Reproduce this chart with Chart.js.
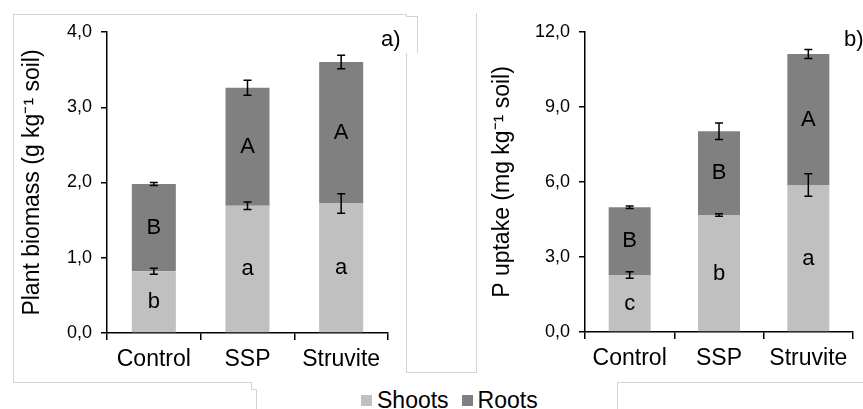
<!DOCTYPE html>
<html>
<head>
<meta charset="utf-8">
<script src="https://cdn.jsdelivr.net/npm/chart.js@4"></script>
<style>
  body { margin: 0; background: #fff; width: 863px; height: 409px; overflow: hidden; position: relative;
         font-family: 'Liberation Sans', Arial, sans-serif; }
  .box { position: absolute; }
  .ln { position: absolute; background: #d3d3d3; }
  .tag { position: absolute; font-size: 22px; color: #000; line-height: 1; }
  #legend { position: absolute; left: 361px; top: 389px; font-size: 23px; line-height: 1; display: flex; align-items: center; }
  #legend span.sq { display: inline-block; width: 11px; height: 11px; margin-right: 5px; }
  #legend span.tx { margin-right: 13px; }
</style>
</head>
<body>
<div class="ln" style="left:13px;top:14px;width:1px;height:369px"></div>
<div class="ln" style="left:13px;top:382px;width:238px;height:1px"></div>
<div class="ln" style="left:251px;top:382px;width:1px;height:7px"></div>
<div class="ln" style="left:251px;top:389px;width:5px;height:1px"></div>
<div class="ln" style="left:256px;top:389px;width:1px;height:20px"></div>
<div class="ln" style="left:13px;top:14px;width:393px;height:1px"></div>
<div class="ln" style="left:406px;top:14px;width:1px;height:2px"></div>
<div class="ln" style="left:406px;top:16px;width:11px;height:1px"></div>
<div class="ln" style="left:417px;top:16px;width:1px;height:37px"></div>
<div class="ln" style="left:406px;top:53px;width:1px;height:319px"></div>
<div class="ln" style="left:406px;top:372px;width:71px;height:1px"></div>
<div class="ln" style="left:476px;top:13px;width:1px;height:359px"></div>
<div class="ln" style="left:617px;top:382px;width:246px;height:1px"></div>
<div class="ln" style="left:617px;top:382px;width:1px;height:27px"></div>

<div class="box" style="left:0;top:0;width:420px;height:380px"><canvas id="biomass"></canvas></div>
<div class="box" style="left:430px;top:0;width:433px;height:380px"><canvas id="uptake"></canvas></div>

<div class="tag" style="left:381px;top:28px">a)</div>
<div class="tag" style="left:844px;top:28px">b)</div>
<div id="legend"></div>

<script>
const categories = ['Control', 'SSP', 'Struvite']
const seriesNames = ['Shoots', 'Roots']
const shootsColor = '#c0c0c0'
const rootsColor = '#808080'

// panel a) plant biomass, g kg-1 soil
const biomassShoots = [0.82, 1.69, 1.72]
const biomassRoots = [1.16, 1.57, 1.88]
const biomassShootsErr = [0.04, 0.05, 0.13]
const biomassTotalErr = [0.02, 0.10, 0.09]
const biomassShootLetters = ['b', 'a', 'a']
const biomassRootLetters = ['B', 'A', 'A']
const biomassTicks = ['0,0', '1,0', '2,0', '3,0', '4,0']

// panel b) P uptake, mg kg-1 soil
const uptakeShoots = [2.28, 4.68, 5.88]
const uptakeRoots = [2.71, 3.35, 5.24]
const uptakeShootsErr = [0.13, 0.05, 0.45]
const uptakeTotalErr = [0.05, 0.33, 0.18]
const uptakeShootLetters = ['c', 'b', 'a']
const uptakeRootLetters = ['B', 'B', 'A']
const uptakeTicks = ['0,0', '3,0', '6,0', '9,0', '12,0']

Chart.defaults.font.family = "'Liberation Sans', Arial, sans-serif"
Chart.defaults.color = '#000'

const marksPlugin = {
  id: 'marks',
  afterDatasetsDraw (chart, args, opts) {
    const ctx = chart.ctx
    const y = chart.scales.y
    const meta = chart.getDatasetMeta(0)
    const shoots = chart.data.datasets[0].data
    const roots = chart.data.datasets[1].data
    ctx.save()
    ctx.strokeStyle = '#000'
    ctx.lineWidth = 1.5
    const errBar = (cx, v, e) => {
      const top = y.getPixelForValue(v + e)
      const bot = y.getPixelForValue(v - e)
      ctx.beginPath()
      ctx.moveTo(cx, top); ctx.lineTo(cx, bot)
      ctx.moveTo(cx - 4, top); ctx.lineTo(cx + 4, top)
      ctx.moveTo(cx - 4, bot); ctx.lineTo(cx + 4, bot)
      ctx.stroke()
    }
    ctx.fillStyle = '#000'
    ctx.font = "22px 'Liberation Sans', Arial, sans-serif"
    ctx.textAlign = 'center'
    ctx.textBaseline = 'middle'
    shoots.forEach((s, i) => {
      const cx = meta.data[i].x
      const total = s + roots[i]
      errBar(cx, s, opts.shootErr[i])
      errBar(cx, total, opts.totalErr[i])
      ctx.fillText(opts.shootLetters[i], cx, y.getPixelForValue(s / 2))
      ctx.fillText(opts.rootLetters[i], cx, y.getPixelForValue(s + roots[i] / 2))
    })
    ctx.restore()
  }
}

function makeChart (id, shoots, roots, max, step, tickLabels, title, yWidth, xHeight, titlePad, padRight, marks) {
  return new Chart(document.getElementById(id), {
    type: 'bar',
    data: {
      labels: categories,
      datasets: [
        { label: seriesNames[0], data: shoots, backgroundColor: shootsColor, categoryPercentage: 1, barPercentage: 0.47 },
        { label: seriesNames[1], data: roots, backgroundColor: rootsColor, categoryPercentage: 1, barPercentage: 0.47 }
      ]
    },
    options: {
      animation: false,
      responsive: true,
      maintainAspectRatio: false,
      layout: { padding: { top: 32, right: padRight, left: 0, bottom: 0 } },
      plugins: {
        legend: { display: false },
        tooltip: { enabled: false },
        marks: marks
      },
      scales: {
        x: {
          stacked: true,
          grid: { drawOnChartArea: false, drawTicks: true, tickLength: 7, color: '#000', lineWidth: 1.5 },
          border: { display: true, color: '#000', width: 1.5 },
          ticks: { font: { size: 23 }, padding: 6, color: '#000' },
          afterFit: s => { s.height = xHeight }
        },
        y: {
          stacked: true,
          min: 0,
          max: max,
          grid: { drawOnChartArea: false, drawTicks: true, tickLength: 6, color: '#000', lineWidth: 1.5 },
          border: { display: true, color: '#000', width: 1.5 },
          ticks: { stepSize: step, font: { size: 18 }, padding: 9, color: '#000', callback: (v, i) => tickLabels[i] },
          title: { display: true, text: title, font: { size: 23 }, padding: { top: titlePad, bottom: 0 }, color: '#000' },
          afterFit: s => { s.width = yWidth }
        }
      }
    },
    plugins: [marksPlugin]
  })
}

makeChart('biomass', biomassShoots, biomassRoots, 4, 1, biomassTicks,
  'Plant biomass (g kg\u207B\u00B9 soil)', 107, 47, 19, 32,
  { shootErr: biomassShootsErr, totalErr: biomassTotalErr, shootLetters: biomassShootLetters, rootLetters: biomassRootLetters })

makeChart('uptake', uptakeShoots, uptakeRoots, 12, 3, uptakeTicks,
  'P uptake (mg kg\u207B\u00B9 soil)', 155, 48, 59, 10,
  { shootErr: uptakeShootsErr, totalErr: uptakeTotalErr, shootLetters: uptakeShootLetters, rootLetters: uptakeRootLetters })

const legend = document.getElementById('legend')
;[shootsColor, rootsColor].forEach((c, i) => {
  const sq = document.createElement('span')
  sq.className = 'sq'
  sq.style.background = c
  const tx = document.createElement('span')
  tx.className = 'tx'
  tx.textContent = seriesNames[i]
  legend.appendChild(sq)
  legend.appendChild(tx)
})
</script>
</body>
</html>
